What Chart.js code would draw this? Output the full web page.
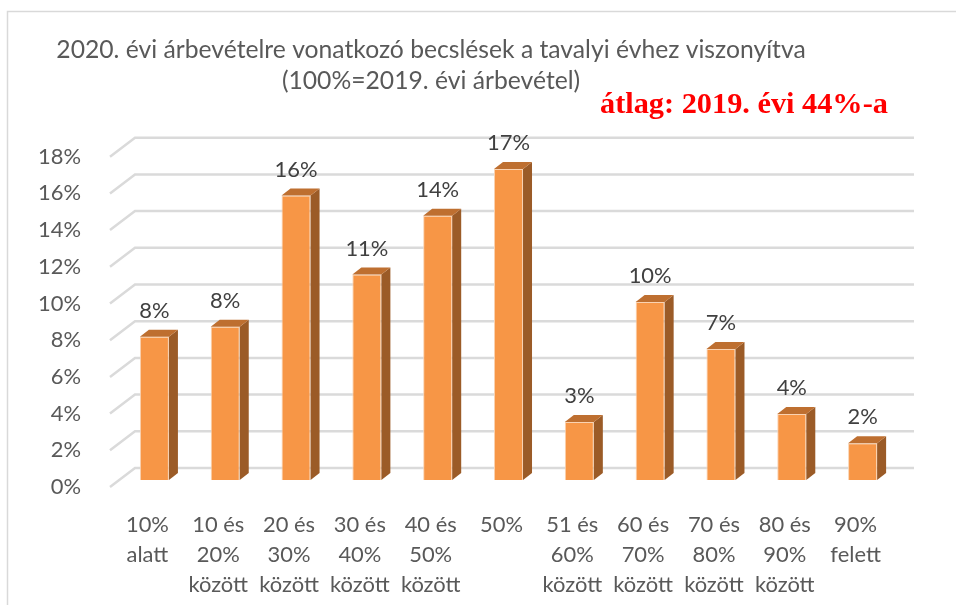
<!DOCTYPE html>
<html>
<head>
<meta charset="utf-8">
<script src="https://cdn.jsdelivr.net/npm/chart.js@4.4.1/dist/chart.umd.min.js"></script>
<style>
  html, body { margin: 0; padding: 0; background: #ffffff; }
  #wrap { width: 956px; height: 605px; position: relative; }
</style>
</head>
<body>
<div id="wrap"><canvas id="c" width="956" height="605"></canvas></div>
<script>
// ---- data ----
const titleLines = ['2020. évi árbevételre vonatkozó becslések a tavalyi évhez viszonyítva', '(100%=2019. évi árbevétel)'];
const noteText = 'átlag: 2019. évi 44%-a';
const categories = [
  ['10%', 'alatt'],
  ['10 és', '20%', 'között'],
  ['20 és', '30%', 'között'],
  ['30 és', '40%', 'között'],
  ['40 és', '50%', 'között'],
  ['50%'],
  ['51 és', '60%', 'között'],
  ['60 és', '70%', 'között'],
  ['70 és', '80%', 'között'],
  ['80 és', '90%', 'között'],
  ['90%', 'felett']
];
const values = [7.8, 8.35, 15.5, 11.2, 14.4, 16.95, 3.16, 9.7, 7.14, 3.6, 2.0];
const yMin = 0, yMax = 18, yStep = 2;

// ---- styles ----
const FONT = 'Lato';
const GREY = '#595959';
const DEPTH_DX = 9, DEPTH_DY = 7;

function fitSize(text, family, weight, target) {
  const c = document.createElement('canvas').getContext('2d');
  c.font = weight + ' 100px ' + family;
  return 100 * target / c.measureText(text).width;
}
const tickSize = fitSize('18%', FONT, 'normal', 43);
const titleSize = fitSize(titleLines[0], FONT, 'normal', 750);
const noteSize = fitSize(noteText, '"Liberation Serif"', 'bold', 288);

const plugin3d = {
  id: 'plugin3d',
  beforeDatasetsDraw(chart) {
    const ctx = chart.ctx, ca = chart.chartArea, ys = chart.scales.y;
    ctx.save();
    ctx.strokeStyle = '#DADADA';
    ctx.lineWidth = 2.5;
    ys.ticks.forEach(t => {
      const y = ys.getPixelForValue(t.value);
      ctx.beginPath();
      ctx.moveTo(ca.left - 9, y + 7);
      ctx.lineTo(ca.left + 16, y - 12);
      ctx.lineTo(ca.right + 16, y - 12);
      ctx.stroke();
    });
    ctx.restore();
  },
  afterDatasetsDraw(chart) {
    const ctx = chart.ctx;
    const meta = chart.getDatasetMeta(0);
    ctx.save();
    meta.data.forEach((bar, i) => {
      const p = bar.getProps(['x', 'y', 'base', 'width'], true);
      const l = p.x - p.width / 2, r = p.x + p.width / 2;
      // side
      ctx.fillStyle = '#9B5B27';
      ctx.beginPath();
      ctx.moveTo(r, p.y);
      ctx.lineTo(r + DEPTH_DX, p.y - DEPTH_DY);
      ctx.lineTo(r + DEPTH_DX, p.base - DEPTH_DY);
      ctx.lineTo(r, p.base);
      ctx.closePath();
      ctx.fill();
      // top
      ctx.fillStyle = '#BE6F30';
      ctx.beginPath();
      ctx.moveTo(l, p.y);
      ctx.lineTo(l + DEPTH_DX, p.y - DEPTH_DY);
      ctx.lineTo(r + DEPTH_DX, p.y - DEPTH_DY);
      ctx.lineTo(r, p.y);
      ctx.closePath();
      ctx.fill();
      // value label
      ctx.fillStyle = '#404040';
      ctx.font = tickSize + 'px ' + FONT;
      ctx.textAlign = 'center';
      ctx.textBaseline = 'middle';
      ctx.fillText(Math.round(values[i]) + '%', p.x, p.y - 26);
    });
    ctx.restore();
  },
  afterDraw(chart) {
    const ctx = chart.ctx;
    ctx.save();
    // frame
    ctx.strokeStyle = '#D9D9D9';
    ctx.lineWidth = 1.5;
    ctx.beginPath();
    ctx.moveTo(7.5, 605);
    ctx.lineTo(7.5, 11.5);
    ctx.lineTo(956, 11.5);
    ctx.stroke();
    // title
    ctx.fillStyle = GREY;
    ctx.font = titleSize + 'px ' + FONT;
    ctx.textAlign = 'center';
    ctx.textBaseline = 'middle';
    ctx.fillText(titleLines[0], 431, 50);
    ctx.fillText(titleLines[1], 431, 81);
    // note
    ctx.fillStyle = '#FF0000';
    ctx.font = 'bold ' + noteSize + 'px "Liberation Serif"';
    ctx.textAlign = 'left';
    ctx.fillText(noteText, 600, 105);
    ctx.restore();
  }
};

new Chart(document.getElementById('c'), {
  type: 'bar',
  data: {
    labels: categories,
    datasets: [{
      data: values,
      backgroundColor: '#F79646',
      borderColor: '#FAD3B2',
      borderWidth: 1,
      barPercentage: 0.82,
      categoryPercentage: 0.5
    }]
  },
  options: {
    responsive: false,
    animation: false,
    events: [],
    layout: { padding: { top: 149.7, left: 0, right: 58, bottom: 0 } },
    plugins: { legend: { display: false }, title: { display: false }, tooltip: { enabled: false } },
    scales: {
      x: {
        grid: { display: false },
        border: { display: false },
        ticks: {
          color: GREY,
          font: { family: FONT, size: tickSize, lineHeight: 30 / tickSize },
          padding: 22,
          labelOffset: -7,
          maxRotation: 0,
          autoSkip: false
        },
        afterFit(s) { s.height = 125; }
      },
      y: {
        min: yMin, max: yMax,
        grid: { display: false },
        border: { display: false },
        ticks: {
          stepSize: yStep,
          color: GREY,
          font: { family: FONT, size: tickSize },
          padding: 30,
          labelOffset: 7,
          callback: v => v + '%'
        },
        afterFit(s) { s.width = 119; }
      }
    }
  },
  plugins: [plugin3d]
});
</script>
</body>
</html>
